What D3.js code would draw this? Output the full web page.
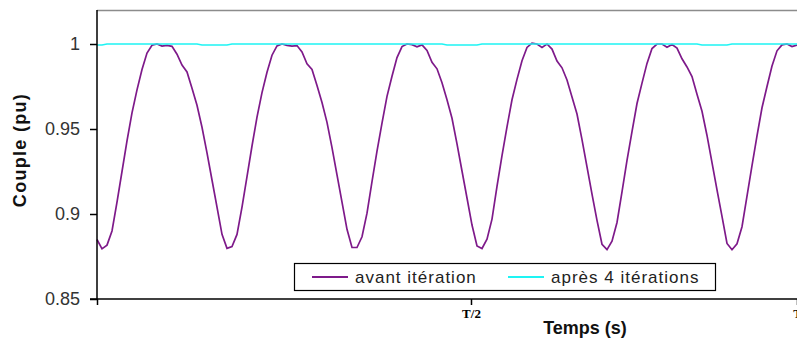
<!DOCTYPE html>
<html>
<head>
<meta charset="utf-8">
<script src="https://cdnjs.cloudflare.com/ajax/libs/d3/7.8.5/d3.min.js"></script>
<style>
  body { margin: 0; background: #fff; }
  svg { display: block; font-family: "Liberation Sans", Arial, sans-serif; }
</style>
</head>
<body>
<div id="chart"></div>
<script>
// couple (pu), one sample every T/130 from t = -0.0736 T up to t = T
const avantIteration = [
  0.885, 0.8795, 0.8817, 0.890, 0.907, 0.925, 0.943, 0.9595, 0.973, 0.985,
  0.9947, 0.9993, 1.000, 0.9988, 0.9992, 0.9986, 0.994, 0.9876, 0.9836, 0.974,
  0.964, 0.951, 0.936, 0.920, 0.904, 0.888, 0.8798, 0.8808, 0.888, 0.904,
  0.922, 0.940, 0.957, 0.9714, 0.9834, 0.9934, 0.9989, 1.000, 0.9992, 0.9988,
  0.9991, 0.9953, 0.9883, 0.985, 0.9756, 0.9656, 0.9539, 0.939, 0.923, 0.907,
  0.891, 0.8803, 0.8803, 0.8866, 0.9005, 0.919, 0.937, 0.9535, 0.9692, 0.981,
  0.992, 0.9985, 1.000, 0.9996, 0.9984, 0.9995, 0.9962, 0.9892, 0.9854, 0.9772,
  0.9672, 0.9563, 0.9413, 0.9253, 0.9094, 0.8935, 0.8812, 0.8797, 0.8852, 0.897,
  0.9163, 0.9343, 0.9513, 0.9672, 0.9792, 0.9902, 0.998, 1.0005, 1.000, 0.998,
  1.000, 0.997, 0.990, 0.986, 0.9788, 0.9688, 0.9588, 0.9437, 0.9277, 0.9117,
  0.8962, 0.8822, 0.879, 0.884, 0.895, 0.913, 0.9315, 0.9485, 0.965, 0.977,
  0.9886, 0.9973, 1.000, 1.000, 0.9981, 0.9997, 0.9976, 0.9913, 0.9865, 0.9808,
  0.9704, 0.9604, 0.9462, 0.9302, 0.9142, 0.8986, 0.8827, 0.879, 0.8825, 0.8925,
  0.9105, 0.9285, 0.946, 0.9625, 0.975, 0.987, 0.996, 0.9995, 1.000, 0.9985,
  0.9994
];

const apres4Iterations = [
  0.9994, 0.9994, 1, 1, 1, 1, 1, 1, 1, 1,
  1, 1, 1, 1, 1, 1, 1, 1, 1, 1,
  1, 0.9994, 0.9994, 0.9994, 0.9994, 0.9994, 0.9994, 1, 1, 1,
  1, 1, 1, 1, 1, 1, 1, 1, 1, 1,
  1, 1, 1, 1, 1, 1, 1, 1, 1, 1,
  1, 1, 1, 1, 1, 1, 1, 1, 1, 1,
  1, 1, 1, 1, 1, 1, 1, 1, 1, 1,
  0.9994, 0.9994, 0.9994, 0.9994, 0.9994, 0.9994, 0.9994, 1, 1, 1,
  1, 1, 1, 1, 1, 1, 1, 1, 1, 1,
  1, 1, 1, 1, 1, 1, 1, 1, 1, 1,
  1, 1, 1, 1, 1, 1, 1, 1, 1, 1,
  1, 1, 1, 1, 1, 1, 1, 1, 1, 1,
  1, 0.9994, 0.9994, 0.9994, 0.9994, 0.9994, 0.9994, 1, 1, 1,
  1, 1, 1, 1, 1, 1, 1, 1, 1, 1,
  1
];

const tStart = -0.0736;
const tEnd = 1;
const temps = d3.range(avantIteration.length).map(i => tStart + i * (tEnd - tStart) / (avantIteration.length - 1));

const yTicks = [0.85, 0.9, 0.95, 1];
const xTicks = [tStart, 0.5, 1];
const xTickLabels = ["", "T/2", "T"];

const seriesNames = ["avant itération", "après 4 itérations"];
const seriesColors = ["#7e1a8a", "#1ef4f4"];

let margin = { top: 10, right: 0, bottom: 41, left: 97 },
    width = 797 - margin.left - margin.right,
    height = 340 - margin.top - margin.bottom;

let svg = d3
    .select("#chart")
    .append("svg")
    .attr("width", 797)
    .attr("height", 340)
    .append("g")
    .attr("transform", "translate(" + margin.left + "," + margin.top + ")");

let x = d3.scaleLinear().domain([tStart, tEnd]).range([0, width]);
let y = d3.scaleLinear().domain([0.85, 1.02]).range([height, 0]);

// top frame line
svg.append("line")
    .attr("x1", 0)
    .attr("x2", width)
    .attr("y1", 0.5)
    .attr("y2", 0.5)
    .style("stroke", "#8c8c8c")
    .style("stroke-width", 1.5);

// ---- LINES ----
let line = d3.line()
    .x((d, i) => x(temps[i]))
    .y(d => y(d));

[avantIteration, apres4Iterations].forEach((serie, i) => {
    svg.append("path")
        .datum(serie)
        .attr("d", line)
        .attr("fill", "none")
        .style("stroke", seriesColors[i])
        .style("stroke-width", 1.7);
});

// ---- AXES ----
let yAxis = d3.axisLeft(y)
    .tickValues(yTicks)
    .tickSize(7)
    .tickPadding(10)
    .tickFormat(d => d3.format("")(d));

let xAxis = d3.axisBottom(x)
    .tickValues(xTicks)
    .tickSize(6)
    .tickPadding(4)
    .tickFormat((d, i) => xTickLabels[i]);

let yAxisGroup = svg.append("g").attr("class", "y-axis").call(yAxis);
yAxisGroup.select(".domain").attr("d", "M-7," + height + "H0V0").style("stroke", "#000").style("stroke-width", 1.5);
yAxisGroup.selectAll(".tick line").style("stroke", "#000").style("stroke-width", 1.5);
yAxisGroup.selectAll("text")
    .style("font-size", "18px")
    .style("font-family", "'Liberation Sans', Arial, sans-serif")
    .style("fill", "#333");

let xAxisGroup = svg.append("g")
    .attr("class", "x-axis")
    .attr("transform", "translate(0," + height + ")")
    .call(xAxis);
xAxisGroup.select(".domain").attr("d", "M0,0H" + width).style("stroke", "#000").style("stroke-width", 1.5);
xAxisGroup.selectAll(".tick line").style("stroke", "#000").style("stroke-width", 1.5);
xAxisGroup.selectAll("text")
    .style("font-size", "13px")
    .style("font-weight", "bold")
    .style("font-family", "'Liberation Serif', 'Times New Roman', serif")
    .style("fill", "#000");

// axis titles
svg.append("text")
    .attr("text-anchor", "middle")
    .attr("transform", "translate(" + (26 - margin.left) + "," + (150 - margin.top) + ") rotate(-90)")
    .text("Couple (pu)")
    .style("font-weight", "bold")
    .style("font-size", "18px")
    .style("letter-spacing", "1.3px")
    .style("fill", "#111");

svg.append("text")
    .attr("text-anchor", "middle")
    .attr("x", 585 - margin.left)
    .attr("y", 334 - margin.top)
    .text("Temps (s)")
    .style("font-weight", "bold")
    .style("font-size", "18px")
    .style("fill", "#111");

// ---- LEGEND ----
let legend = svg.append("g")
    .attr("transform", "translate(" + (294 - margin.left) + "," + (263 - margin.top) + ")");

legend.append("rect")
    .attr("x", 0.5)
    .attr("y", 0.5)
    .attr("width", 421)
    .attr("height", 27)
    .attr("fill", "#fff")
    .style("stroke", "#000")
    .style("stroke-width", 1.2);

let legendX = [18, 214];
seriesNames.forEach((name, i) => {
    legend.append("line")
        .attr("x1", legendX[i])
        .attr("x2", legendX[i] + 36)
        .attr("y1", 14)
        .attr("y2", 14)
        .style("stroke", seriesColors[i])
        .style("stroke-width", 2);
    legend.append("text")
        .attr("x", legendX[i] + 43)
        .attr("y", 20)
        .text(name)
        .style("font-size", "17px")
        .style("letter-spacing", "1px")
        .style("fill", "#222");
});
</script>
</body>
</html>
